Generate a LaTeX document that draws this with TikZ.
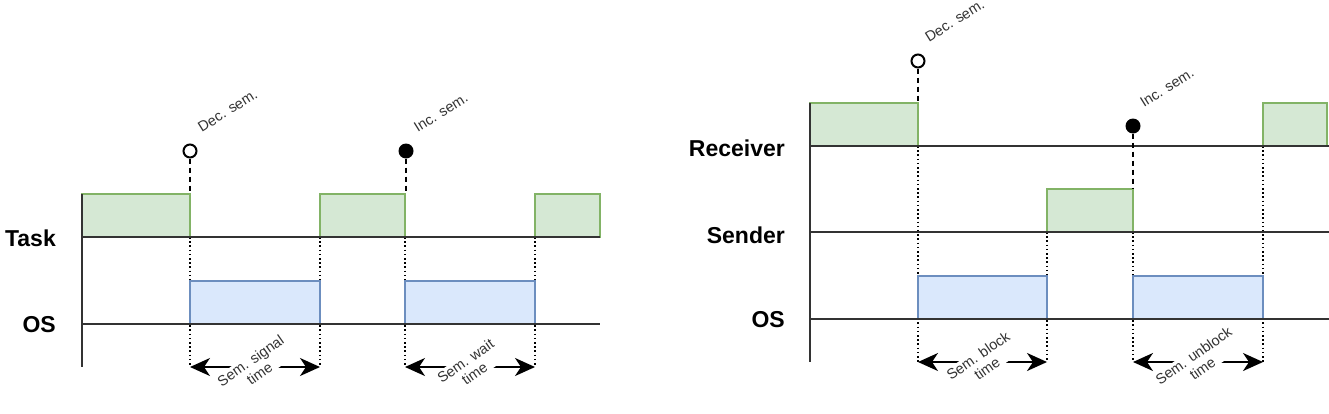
\documentclass[tikz,border=0pt]{standalone}
\usepackage{fontspec}
\setmainfont{Liberation Sans}
\usetikzlibrary{calc, arrows.meta}
\definecolor{taskfill}{HTML}{D5E8D4}
\definecolor{taskline}{HTML}{82B366}
\definecolor{osfill}{HTML}{DAE8FC}
\definecolor{osline}{HTML}{6C8EBF}
\definecolor{axisgray}{HTML}{333333}

\begin{document}
\begin{tikzpicture}[
            x=1pt, y=1pt,
            axis/.style={draw=axisgray, line width=2pt},
            taskbox/.style={fill=taskfill, draw=taskline, line width=1.5pt},
            osbox/.style={fill=osfill, draw=osline, line width=1.5pt},
            lane/.style={font=\bfseries\fontsize{23}{26}\selectfont, anchor=east, inner sep=0pt},
            event/.style={font=\fontsize{14.5}{16}\selectfont, text=black!80, rotate=32, anchor=south west, inner sep=0pt},
            opendot/.style={circle, draw, line width=2pt, fill=white, minimum size=13pt, inner sep=0pt},
            fulldot/.style={circle, fill, minimum size=15pt, inner sep=0pt},
            semline/.style={line width=2pt, dash pattern=on 5pt off 4pt},
            guide/.style={line width=1.6pt, dash pattern=on 1.6pt off 2.6pt},
            span/.style={line width=2pt, {Stealth[length=20pt, width=18pt, inset=6pt]}-{Stealth[length=20pt, width=18pt, inset=6pt]}},
            spanlabel/.style={font=\fontsize{14.5}{15.5}\selectfont, text=black!80, rotate=35, align=center, fill=white, inner sep=1pt}
            ]
        \useasboundingbox (0,0) rectangle (1329,-413);

        % left picture: task and OS
        \foreach \x in {190,320,405,535}
            \draw[guide] (\x,-237) -- (\x,-367);
        \filldraw[taskbox] (82,-237) rectangle (190,-194);
        \filldraw[taskbox] (320,-237) rectangle (405,-194);
        \filldraw[taskbox] (535,-237) rectangle (600,-194);
        \filldraw[osbox] (190,-324) rectangle (320,-281);
        \filldraw[osbox] (405,-324) rectangle (535,-281);
        \draw[axis] (82,-194) -- (82,-367);
        \draw[axis] (82,-237) -- (600,-237);
        \draw[axis] (82,-324) -- (600,-324);

        \node[lane] (task) at (56,-238) {Task};
        \node[lane] (os) at (56,-325) {OS};

        \node[opendot] (dec) at (190,-151) {};
        \node[fulldot] (inc) at (406,-151) {};
        \draw[semline] (dec) -- (190,-194);
        \draw[semline] (inc) -- (406,-194);
        \node[event] at ($(dec)+(12,18)$) {Dec. sem.};
        \node[event] at ($(inc)+(12,18)$) {Inc. sem.};

        \draw[span] (190,-367) -- node[spanlabel] {Sem. signal\\time} (320,-367);
        \draw[span] (405,-367) -- node[spanlabel] {Sem. wait\\time} (535,-367);

        % right picture: receiver, sender and OS
        \draw[guide] (918,-146) -- (918,-362);
        \draw[guide] (1047,-232) -- (1047,-362);
        \draw[guide] (1133,-232) -- (1133,-362);
        \draw[guide] (1263,-146) -- (1263,-362);
        \filldraw[taskbox] (810,-146) rectangle (918,-103);
        \filldraw[taskbox] (1263,-146) rectangle (1327,-103);
        \filldraw[taskbox] (1047,-232) rectangle (1133,-189);
        \filldraw[osbox] (918,-319) rectangle (1047,-276);
        \filldraw[osbox] (1133,-319) rectangle (1263,-276);
        \draw[axis] (810,-103) -- (810,-362);
        \draw[axis] (810,-146) -- (1329,-146);
        \draw[axis] (810,-232) -- (1329,-232);
        \draw[axis] (810,-319) -- (1329,-319);

        \node[lane] (receiver) at (785,-148) {Receiver};
        \node[lane] (sender) at (785,-235) {Sender};
        \node[lane] (os2) at (785,-320) {OS};

        \node[opendot] (dec2) at (918,-61) {};
        \node[fulldot] (inc2) at (1133,-126) {};
        \draw[semline] (dec2) -- (918,-103);
        \draw[semline] (inc2) -- (1133,-189);
        \node[event] at ($(dec2)+(11,18)$) {Dec. sem.};
        \node[event] at ($(inc2)+(11,18)$) {Inc. sem.};

        \draw[span] (918,-362) -- node[spanlabel] {Sem. block\\time} (1047,-362);
        \draw[span] (1133,-362) -- node[spanlabel] {Sem. unblock\\time} (1263,-362);
    \end{tikzpicture}
\end{document}
